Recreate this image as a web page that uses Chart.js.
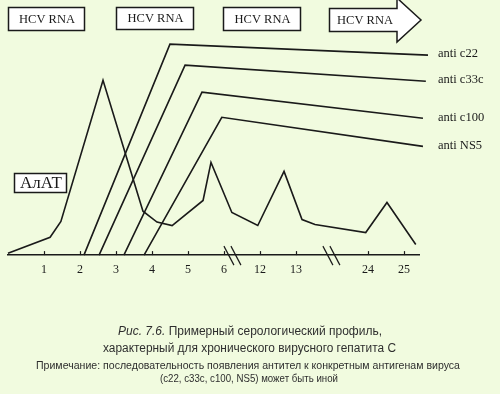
<!DOCTYPE html>
<html>
<head>
<meta charset="utf-8">
<script src="https://cdn.jsdelivr.net/npm/chart.js@4.4.1/dist/chart.umd.min.js"></script>
<style>
html,body{margin:0;padding:0;background:#f1fbdf;}
#wrap{position:relative;width:500px;height:394px;}
canvas{display:block;}
</style>
</head>
<body>
<div id="wrap"><canvas id="c" width="500" height="394"></canvas></div>
<script>
// Axis (position index) tick positions and their month labels
const tickPos = [1, 2, 3, 4, 5, 6, 7, 8, 10, 11];
const tickLabels = ['1', '2', '3', '4', '5', '6', '12', '13', '24', '25'];
const breakPos = [6.25, 9.0];

// АлАТ curve
const altX = [0, 1.17, 1.47, 2.64, 3.75, 4.14, 4.56, 5.42, 5.64, 6.22, 6.94, 7.67, 8.17, 8.53, 9.94, 10.53, 11.33];
const altY = [1.8, 17.8, 33.5, 174.5, 43.8, 33, 29.5, 54.5, 92.5, 42.5, 29.5, 83.5, 35.5, 30.5, 22.5, 52.5, 10.5];

// antibody curves
const c22X = [2.11, 4.5, 11.67];
const c22Y = [0, 210.5, 199.5];
const c33cX = [2.53, 4.92, 11.61];
const c33cY = [0, 189.5, 173.5];
const c100X = [3.22, 5.39, 11.53];
const c100Y = [0, 162.5, 136.5];
const ns5X = [3.78, 5.94, 11.53];
const ns5Y = [0, 137.5, 108.5];

const seriesNames = ['anti c22', 'anti c33c', 'anti c100', 'anti NS5'];
const rnaLabel = 'HCV RNA';
const altLabel = 'АлАТ';
const captionItalic = 'Рис. 7.6.';
const captionLine1 = ' Примерный серологический профиль,';
const captionLine2 = 'характерный для хронического вирусного гепатита С';
const noteLine1 = 'Примечание: последовательность появления антител к конкретным антигенам вируса';
const noteLine2 = '(c22, c33c, c100, NS5) может быть иной';

const INK = '#1a1a1a';
const SERIF = '"Liberation Serif", "DejaVu Serif", serif';
const SANS = '"Liberation Sans", "DejaVu Sans", sans-serif';

function pts(xs, ys) { return xs.map((x, i) => ({x: x, y: ys[i]})); }
function ds(label, xs, ys) {
  return {label: label, data: pts(xs, ys), borderColor: INK, borderWidth: 1.6,
    pointRadius: 0, tension: 0, fill: false, clip: false};
}

function fitText(ctx, text, x, y, width) {
  const w = ctx.measureText(text).width;
  const s = width / w;
  ctx.save();
  ctx.translate(x, y);
  ctx.scale(s, 1);
  ctx.textAlign = 'left';
  ctx.fillText(text, 0, 0);
  ctx.restore();
}

const decor = {
  id: 'decor',
  afterDraw(chart) {
    const ctx = chart.ctx;
    const xs = chart.scales.x, ys = chart.scales.y;
    const axisY = ys.getPixelForValue(0);
    ctx.save();
    ctx.strokeStyle = INK;
    ctx.fillStyle = INK;
    ctx.lineWidth = 1.2;
    // inward tick marks
    tickPos.forEach(v => {
      const px = Math.round(xs.getPixelForValue(v)) + 0.5;
      ctx.beginPath(); ctx.moveTo(px, axisY); ctx.lineTo(px, axisY - 4); ctx.stroke();
    });
    // axis break marks
    breakPos.forEach(v => {
      const px = xs.getPixelForValue(v);
      [-4, 3].forEach(off => {
        ctx.beginPath();
        ctx.moveTo(px + off - 5, axisY - 9);
        ctx.lineTo(px + off + 5, axisY + 10);
        ctx.stroke();
      });
    });
    // series labels
    ctx.font = '12.5px ' + SERIF;
    ctx.textBaseline = 'middle';
    [c22Y, c33cY, c100Y, ns5Y].forEach((arr, i) => {
      const py = ys.getPixelForValue(arr[arr.length - 1]) - 1;
      ctx.fillText(seriesNames[i], 438, py);
    });
    // HCV RNA boxes
    ctx.lineWidth = 1.5;
    const boxes = [[8, 7, 76, 23], [116, 7, 77, 22], [223, 7, 77, 23]];
    boxes.forEach(b => {
      ctx.fillStyle = '#ffffff';
      ctx.fillRect(b[0], b[1], b[2], b[3]);
      ctx.strokeRect(b[0] + 0.5, b[1] + 0.5, b[2], b[3]);
      ctx.fillStyle = INK;
      ctx.textAlign = 'center';
      ctx.fillText(rnaLabel, b[0] + b[2] / 2 + 1, b[1] + b[3] / 2 + 1);
    });
    // arrow
    ctx.beginPath();
    ctx.moveTo(329.5, 8.5); ctx.lineTo(397, 8.5); ctx.lineTo(397, -2);
    ctx.lineTo(421, 20); ctx.lineTo(397, 42); ctx.lineTo(397, 31.5); ctx.lineTo(329.5, 31.5);
    ctx.closePath();
    ctx.fillStyle = '#ffffff'; ctx.fill(); ctx.stroke();
    ctx.fillStyle = INK;
    ctx.fillText(rnaLabel, 365, 20.5);
    // АлАТ box
    ctx.fillStyle = '#ffffff';
    ctx.fillRect(14, 173, 52, 19);
    ctx.strokeRect(14.5, 173.5, 52, 19);
    ctx.fillStyle = INK;
    ctx.font = '17px ' + SERIF;
    ctx.fillText(altLabel, 41, 184);
    // caption
    ctx.fillStyle = '#2e2e2e';
    ctx.textAlign = 'left';
    ctx.font = 'italic 12.5px ' + SANS;
    const wi = ctx.measureText(captionItalic).width;
    ctx.font = '12.5px ' + SANS;
    const wr = ctx.measureText(captionLine1).width;
    const s1 = 264 / (wi + wr);
    ctx.save();
    ctx.translate(118, 332); ctx.scale(s1, 1);
    ctx.font = 'italic 12.5px ' + SANS; ctx.fillText(captionItalic, 0, 0);
    ctx.font = '12.5px ' + SANS; ctx.fillText(captionLine1, wi, 0);
    ctx.restore();
    ctx.font = '12.5px ' + SANS;
    fitText(ctx, captionLine2, 103, 349, 293);
    ctx.font = '10.5px ' + SANS;
    fitText(ctx, noteLine1, 36, 366, 424);
    fitText(ctx, noteLine2, 160, 379, 178);
    ctx.restore();
  }
};

new Chart(document.getElementById('c'), {
  type: 'line',
  data: {
    datasets: [
      ds(altLabel, altX, altY),
      ds(seriesNames[0], c22X, c22Y),
      ds(seriesNames[1], c33cX, c33cY),
      ds(seriesNames[2], c100X, c100Y),
      ds(seriesNames[3], ns5X, ns5Y)
    ]
  },
  options: {
    responsive: false,
    animation: false,
    devicePixelRatio: 1,
    layout: {padding: {left: 8, right: 81, top: 0, bottom: 108.5}},
    plugins: {legend: {display: false}, tooltip: {enabled: false}, title: {display: false}},
    scales: {
      x: {
        type: 'linear', min: 0, max: 11.42,
        grid: {display: false, drawTicks: false},
        border: {display: true, color: INK, width: 1.6},
        afterBuildTicks: (scale) => { scale.ticks = tickPos.map(v => ({value: v})); },
        ticks: {
          autoSkip: false, maxRotation: 0, padding: 8, color: INK,
          font: {family: SERIF, size: 12},
          callback: (v) => { const i = tickPos.indexOf(v); return i >= 0 ? tickLabels[i] : ''; }
        }
      },
      y: {type: 'linear', min: 0, max: 254.5, display: false}
    }
  },
  plugins: [decor]
});
</script>
</body>
</html>
